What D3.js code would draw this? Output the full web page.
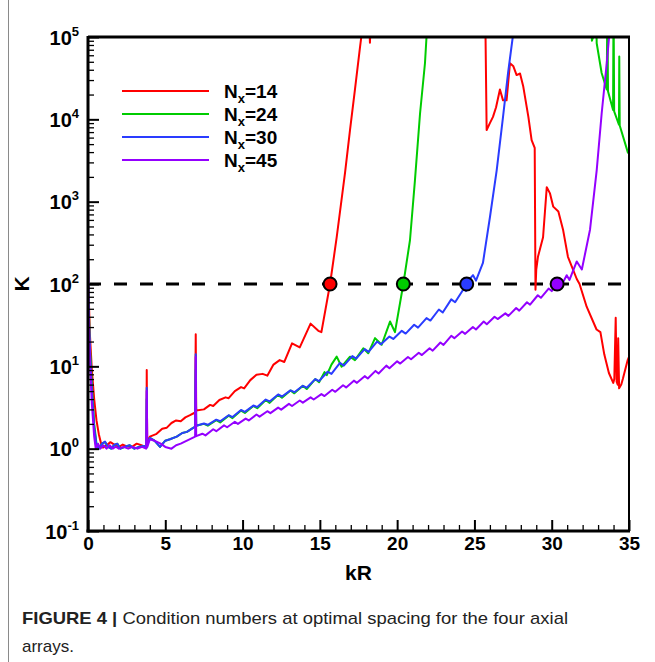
<!DOCTYPE html>
<html>
<head>
<meta charset="utf-8">
<script src="https://cdn.jsdelivr.net/npm/d3@7/dist/d3.min.js"></script>
<style>
  html, body { margin: 0; padding: 0; background: #fff; }
  svg { display: block; }
  text { font-family: Arial, "Liberation Sans", Helvetica, sans-serif; }
</style>
</head>
<body>
<svg id="chart" width="655" height="662"></svg>
<script>
// Condition number kappa versus kR for four axial arrays (N_x = 14, 24, 30, 45)

const arraySizes = ["14", "24", "30", "45"];

const curveN14 = [
  [0,320],[0.04,80],[0.12,25],[0.25,9],[0.4,4],[0.55,2.2],[0.7,1.5],[0.85,1.15],[0.97,1.03],
  [1.15,1.08],[1.45,1.2],[1.7,1.12],[1.95,1.04],[2.25,1.12],[2.55,1.06],[2.85,1.05],[3.15,1.15],
  [3.45,1.1],[3.72,1.05],[3.78,1.05],[3.8,9],[3.83,1.2],[4.0,1.4],[4.4,1.5],[4.8,1.75],[5.1,1.8],
  [5.4,2.05],[5.7,2.2],[6.0,2.15],[6.3,2.4],[6.6,2.55],[6.93,2.75],[6.97,24.5],[7.0,2.9],[7.5,3.0],
  [7.9,3.4],[8.1,3.3],[8.5,3.9],[8.9,4.2],[9.1,4.1],[9.5,5.0],[9.9,5.6],[10.1,5.4],[10.5,6.8],
  [10.9,7.9],[11.3,8.1],[11.6,7.7],[12.0,10.5],[12.4,11.9],[12.7,11.3],[13.2,19],[13.7,17],
  [14.4,33],[14.9,27],[15.1,26],[15.66,100],[16.09,370],[16.63,2250],[16.95,7400],[17.27,23000],
  [17.6,76000],[17.8,150000],[18.2,150000],[18.24,85000],[18.3,200000],[25.7,200000],[25.79,7400],
  [26.0,9000],[26.2,10700],[26.4,14000],[26.65,23000],[26.85,17000],[27.08,17000],[27.3,48000],
  [27.52,44000],[27.73,34500],[27.95,36000],[28.16,25000],[28.49,10700],[28.7,5600],[28.9,4500],
  [28.95,85],[29.0,150],[29.11,214],[29.44,370],[29.68,1500],[29.89,1260],[30.1,870],[30.43,760],
  [30.73,460],[31.05,214],[31.62,115],[31.8,100],[32.26,53],[32.9,28],[33.15,26],[33.4,14],
  [33.7,8.3],[33.98,6.3],[34.05,7],[34.14,39],[34.2,6.5],[34.27,6],[34.3,22],[34.36,5.4],
  [34.5,6],[34.6,7],[34.92,12],[35,13]
];

const curveN24 = [
  [0,250],[0.04,60],[0.12,18],[0.25,6],[0.4,2],[0.55,1.15],[0.7,1.0],[0.9,1.15],[1.1,1.2],
  [1.3,1.05],[1.5,1.0],[1.7,1.1],[1.9,1.15],[2.1,1.0],[2.4,1.05],[2.7,1.1],[3.0,1.0],[3.3,1.05],
  [3.6,1.08],[3.78,1.02],[3.8,4],[3.82,1.1],[4.0,1.35],[4.3,1.25],[4.66,1.05],[5.0,1.25],[5.3,1.3],
  [5.74,1.4],[6.1,1.55],[6.4,1.6],[6.93,1.85],[6.97,9],[7.0,1.9],[7.5,2.0],[7.75,1.9],[8.3,2.22],
  [8.55,2.08],[9.1,2.52],[9.35,2.35],[9.9,2.9],[10.15,2.72],[10.7,3.3],[10.95,3.1],[11.5,3.9],
  [11.75,3.6],[12.3,4.5],[12.55,4.15],[13.1,5.1],[13.35,4.7],[13.9,5.8],[14.15,5.3],[14.7,7.0],
  [14.95,6.4],[15.3,8.5],[15.45,7.8],[15.75,10.5],[16.09,13.1],[16.41,9.9],[16.95,13.1],
  [17.27,11.9],[17.81,16.6],[18.13,14.4],[18.57,22],[19.0,18.3],[19.54,35],[19.86,26],[20.4,100],
  [20.83,340],[21.15,1800],[21.48,11700],[21.8,48000],[21.9,100000],[22.05,400000],
  [32.55,400000],[32.6,90000],[32.68,100000],[32.75,400000],[32.85,400000],[32.91,84000],
  [33.23,36500],[33.56,23000],[33.6,300000],[33.64,22000],[33.97,13000],[34.0,300000],
  [34.04,12500],[34.35,8600],[34.37,58000],[34.4,8400],[34.92,4000],[35,3800]
];

const curveN30 = [
  [0,260],[0.04,55],[0.12,16],[0.25,5],[0.4,1.8],[0.55,1.1],[0.7,1.0],[0.9,1.15],[1.1,1.22],
  [1.3,1.05],[1.5,1.0],[1.7,1.12],[1.9,1.15],[2.1,1.0],[2.4,1.06],[2.7,1.1],[3.0,1.0],[3.3,1.05],
  [3.6,1.08],[3.78,1.02],[3.8,5.5],[3.82,1.1],[4.0,1.35],[4.3,1.25],[4.66,1.05],[5.0,1.25],
  [5.3,1.3],[5.74,1.4],[6.1,1.55],[6.4,1.6],[6.93,1.85],[6.97,14],[7.0,1.9],[7.5,2.02],[7.75,1.95],
  [8.3,2.25],[8.55,2.15],[9.1,2.55],[9.35,2.42],[9.9,2.95],[10.15,2.8],[10.7,3.35],[10.95,3.2],
  [11.5,3.95],[11.75,3.75],[12.3,4.55],[12.55,4.3],[13.1,5.1],[13.35,4.85],[13.9,5.8],[14.15,5.5],
  [14.7,7.0],[14.95,6.6],[15.5,8.6],[15.75,8.1],[16.3,11],[16.55,10.2],[17.1,13.3],[17.35,12.4],
  [17.9,16.2],[18.15,15],[18.7,20],[18.95,18.5],[19.5,23],[19.75,21.5],[20.3,27],[20.55,25],
  [21.1,32],[21.35,29.5],[21.9,38.5],[22.15,36],[22.7,49],[22.95,45],[23.5,65],[23.75,60],
  [24.3,87],[24.45,82],[24.6,110],[24.91,128],[25.1,110],[25.55,180],[26.01,660],[26.44,2400],
  [26.85,10700],[27.17,36000],[27.48,100000],[27.6,200000]
];

const curveN45 = [
  [0,230],[0.04,45],[0.12,12],[0.25,3.5],[0.4,1.4],[0.5,1.0],[0.65,1.15],[0.8,1.0],[1.0,1.1],
  [1.2,1.0],[1.4,1.1],[1.6,1.0],[1.8,1.06],[2.0,1.0],[2.3,1.05],[2.6,1.0],[2.9,1.05],[3.2,1.0],
  [3.5,1.05],[3.76,1.0],[3.8,5],[3.84,1.05],[4.0,1.3],[4.3,1.25],[4.7,1.15],[5.0,1.05],[5.4,1.0],
  [5.7,1.1],[6.0,1.15],[6.4,1.25],[6.93,1.4],[6.97,13],[7.0,1.42],[7.4,1.52],[7.6,1.45],[8.1,1.72],
  [8.3,1.63],[8.8,1.92],[9.0,1.82],[9.5,2.12],[9.7,2.0],[10.2,2.32],[10.4,2.2],[10.9,2.6],
  [11.1,2.45],[11.6,2.85],[11.8,2.7],[12.3,3.15],[12.5,2.98],[13.0,3.5],[13.2,3.3],[13.7,3.85],
  [13.9,3.62],[14.4,4.2],[14.6,3.95],[15.1,4.6],[15.3,4.35],[15.8,5.2],[16.0,4.9],[16.5,5.9],
  [16.7,5.55],[17.2,6.7],[17.4,6.3],[17.9,7.6],[18.1,7.1],[18.6,8.8],[18.8,8.2],[19.3,10.2],
  [19.5,9.5],[20.0,11.5],[20.2,10.8],[20.7,13],[20.9,12.2],[21.4,14.6],[21.6,13.7],[22.1,16.6],
  [22.3,15.5],[22.8,19.5],[23.0,18.2],[23.5,23.5],[23.7,22],[24.2,26.5],[24.4,24.8],[24.9,30],
  [25.1,28],[25.6,35],[25.8,32.5],[26.3,40],[26.5,37.5],[27.0,44],[27.2,41],[27.7,51],[27.9,47.5],
  [28.4,60],[28.6,56],[29.1,73],[29.3,68],[29.8,88],[30.0,82],[30.5,108],[30.7,102],[30.97,128],
  [31.15,112],[31.62,188],[31.95,150],[32.48,460],[32.91,2400],[33.23,11700],[33.56,48000],
  [33.71,100000],[33.8,200000]
];

// kR where each curve crosses the kappa = 100 threshold
const thresholdKR = [15.66, 20.4, 24.5, 30.35];
const thresholdKappa = 100;

const xMajorTicks = [0, 5, 10, 15, 20, 25, 30, 35];
const yDecadeExponents = [-1, 0, 1, 2, 3, 4, 5];

const seriesColors = ["#ff0000", "#00cc00", "#2a3cff", "#9400ff"];
const curves = [curveN14, curveN24, curveN30, curveN45];

// ---- layout ----
const svg = d3.select("#chart");
const plot = { left: 88, right: 629, top: 37, bottom: 531 };

const x = d3.scaleLinear().domain([0, 35]).range([plot.left, plot.right]);
const y = d3.scaleLog().domain([0.1, 1e5]).range([plot.bottom, plot.top]);

// figure frame line on the left
svg.append("line")
  .attr("x1", 8.5).attr("x2", 8.5).attr("y1", 0).attr("y2", 662)
  .attr("stroke", "#8a8a8a").attr("stroke-width", 1);

svg.append("defs").append("clipPath").attr("id", "plotClip")
  .append("rect")
  .attr("x", plot.left).attr("y", plot.top)
  .attr("width", plot.right - plot.left).attr("height", plot.bottom - plot.top);

// threshold dashed line
svg.append("line")
  .attr("x1", x(0)).attr("x2", x(35))
  .attr("y1", y(thresholdKappa)).attr("y2", y(thresholdKappa))
  .attr("stroke", "#000").attr("stroke-width", 3)
  .attr("stroke-dasharray", "13,13");

// curves
const line = d3.line().x(d => x(d[0])).y(d => y(d[1]));
const curveLayer = svg.append("g").attr("clip-path", "url(#plotClip)");
curves.forEach((c, i) => {
  curveLayer.append("path")
    .datum(c)
    .attr("d", line)
    .attr("fill", "none")
    .attr("stroke", seriesColors[i])
    .attr("stroke-width", 2)
    .attr("stroke-linejoin", "round");
});

// threshold crossing markers
svg.append("g").selectAll("circle")
  .data(thresholdKR)
  .join("circle")
  .attr("cx", d => x(d))
  .attr("cy", y(thresholdKappa))
  .attr("r", 6.5)
  .attr("fill", (d, i) => seriesColors[i])
  .attr("stroke", "#000")
  .attr("stroke-width", 2);

// ---- axes ----
const xMinor = d3.range(0, 36).filter(v => v % 5 !== 0);
svg.append("g")
  .attr("transform", `translate(0,${plot.bottom})`)
  .call(d3.axisBottom(x).tickValues(xMinor).tickSize(-6).tickFormat(""))
  .call(g => g.select(".domain").remove())
  .call(g => g.selectAll(".tick line").attr("stroke-width", 1.3));

const xAxis = svg.append("g")
  .attr("transform", `translate(0,${plot.bottom})`)
  .call(d3.axisBottom(x).tickValues(xMajorTicks).tickSize(-11).tickFormat(d3.format("d")));
xAxis.select(".domain").remove();
xAxis.selectAll(".tick line").attr("stroke-width", 2);
xAxis.selectAll(".tick text")
  .attr("y", 6)
  .attr("font-size", 19).attr("font-weight", "bold").attr("fill", "#000")
  .attr("font-family", "Arial, 'Liberation Sans', sans-serif");

const yMinor = [];
for (let e = -1; e < 5; e++) for (let m = 2; m <= 9; m++) yMinor.push(m * Math.pow(10, e));
svg.append("g")
  .attr("transform", `translate(${plot.left},0)`)
  .call(d3.axisLeft(y).tickValues(yMinor).tickSize(-6).tickFormat(""))
  .call(g => g.select(".domain").remove())
  .call(g => g.selectAll(".tick line").attr("stroke-width", 1.3));

const yAxis = svg.append("g")
  .attr("transform", `translate(${plot.left},0)`)
  .call(d3.axisLeft(y).tickValues(yDecadeExponents.map(e => Math.pow(10, e))).tickSize(-11).tickFormat(""));
yAxis.select(".domain").remove();
yAxis.selectAll(".tick line").attr("stroke-width", 2);
yAxis.selectAll(".tick").each(function(d, i) {
  const t = d3.select(this).append("text")
    .attr("x", -9).attr("y", 7)
    .attr("text-anchor", "end")
    .attr("fill", "#000")
    .attr("font-weight", "bold");
  t.append("tspan").attr("font-size", 20).text("10");
  t.append("tspan").attr("font-size", 13).attr("dy", -9).text(String(yDecadeExponents[i]));
});

// plot frame
svg.append("rect")
  .attr("x", plot.left).attr("y", plot.top)
  .attr("width", plot.right - plot.left).attr("height", plot.bottom - plot.top)
  .attr("fill", "none").attr("stroke", "#000").attr("stroke-width", 2);
svg.append("line").attr("x1", plot.left).attr("x2", plot.left)
  .attr("y1", plot.top - 1).attr("y2", plot.bottom + 1.5)
  .attr("stroke", "#000").attr("stroke-width", 3);
svg.append("line").attr("x1", plot.left - 1.5).attr("x2", plot.right + 1)
  .attr("y1", plot.bottom).attr("y2", plot.bottom)
  .attr("stroke", "#000").attr("stroke-width", 3);
svg.append("line").attr("x1", plot.left).attr("x2", plot.right + 1)
  .attr("y1", plot.top).attr("y2", plot.top)
  .attr("stroke", "#000").attr("stroke-width", 3);

// axis titles
svg.append("text")
  .attr("transform", `translate(29,${y(100)}) rotate(-90)`)
  .attr("text-anchor", "middle")
  .attr("font-size", 21).attr("font-weight", "bold").attr("fill", "#000")
  .text("K");
svg.append("text")
  .attr("x", (plot.left + plot.right) / 2).attr("y", 580)
  .attr("text-anchor", "middle")
  .attr("font-size", 21).attr("font-weight", "bold").attr("fill", "#000")
  .text("kR");

// ---- legend ----
const legend = svg.append("g");
arraySizes.forEach((n, i) => {
  const ly = 91 + i * 23;
  legend.append("line")
    .attr("x1", 122).attr("x2", 209).attr("y1", ly).attr("y2", ly)
    .attr("stroke", seriesColors[i]).attr("stroke-width", 2);
  const t = legend.append("text")
    .attr("x", 224).attr("y", ly + 7)
    .attr("font-size", 19).attr("font-weight", "bold").attr("fill", "#000");
  t.append("tspan").text("N");
  t.append("tspan").attr("font-size", 13).attr("dy", 5).text("x");
  t.append("tspan").attr("dy", -5).text("=" + n);
});

// ---- caption ----
const cap = svg.append("text")
  .attr("x", 22).attr("y", 624)
  .attr("font-size", 17).attr("fill", "#222")
  .attr("font-family", "'Liberation Sans Narrow', 'Arial Narrow', Arial, sans-serif")
  .attr("textLength", 546).attr("lengthAdjust", "spacingAndGlyphs");
cap.append("tspan").attr("font-weight", "bold").text("FIGURE 4 | ");
cap.append("tspan").text("Condition numbers at optimal spacing for the four axial");
svg.append("text")
  .attr("x", 22).attr("y", 652)
  .attr("font-size", 17).attr("fill", "#222")
  .attr("font-family", "'Liberation Sans Narrow', 'Arial Narrow', Arial, sans-serif")
  .text("arrays.");
</script>
</body>
</html>
